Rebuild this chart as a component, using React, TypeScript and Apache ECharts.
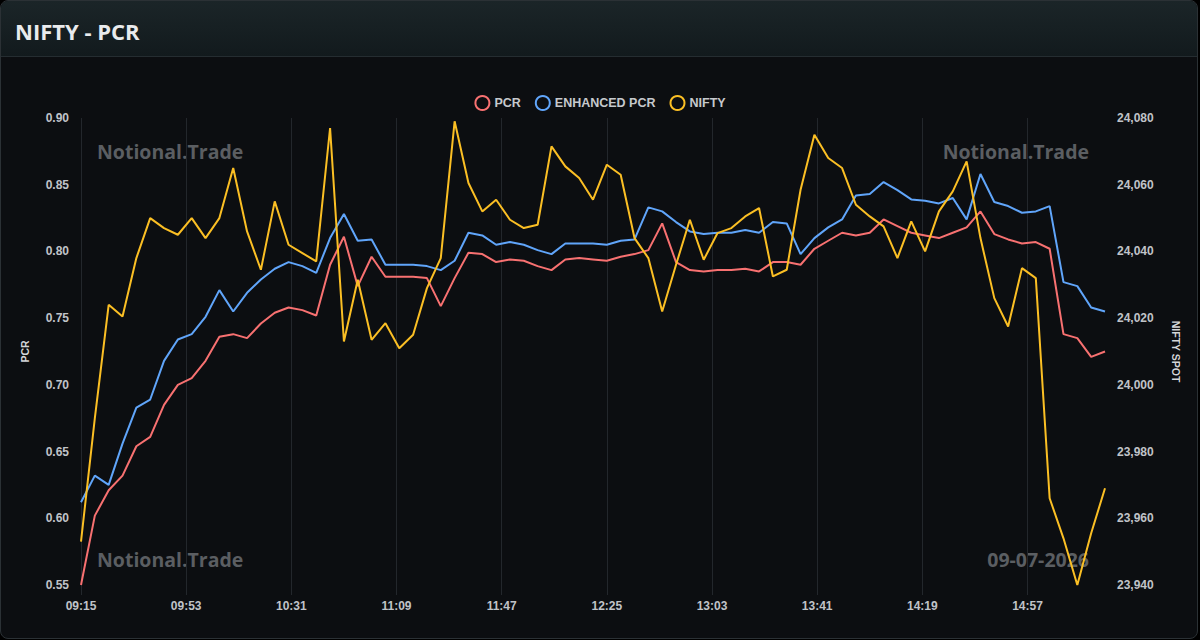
import { useEffect, useRef } from "react";
import * as echarts from "echarts";

// Sample times (5-minute snapshots)
const TIMES = [
  "09:15", "09:20", "09:25", "09:30", "09:35", "09:40", "09:45", "09:50", "09:55", "10:00",
  "10:05", "10:10", "10:15", "10:20", "10:25", "10:30", "10:35", "10:40", "10:45", "10:50",
  "10:55", "11:00", "11:05", "11:10", "11:15", "11:20", "11:25", "11:30", "11:35", "11:40",
  "11:45", "11:50", "11:55", "12:00", "12:05", "12:10", "12:15", "12:20", "12:25", "12:30",
  "12:35", "12:40", "12:45", "12:50", "12:55", "13:00", "13:05", "13:10", "13:15", "13:20",
  "13:25", "13:30", "13:35", "13:40", "13:45", "13:50", "13:55", "14:00", "14:05", "14:10",
  "14:15", "14:20", "14:25", "14:30", "14:35", "14:40", "14:45", "14:50", "14:55", "15:00",
  "15:05", "15:10", "15:15", "15:20", "15:25",
];

const PCR = [
  0.550, 0.602, 0.621, 0.632, 0.654, 0.661, 0.685, 0.700, 0.705, 0.718,
  0.736, 0.738, 0.735, 0.746, 0.754, 0.758, 0.756, 0.752, 0.790, 0.811,
  0.774, 0.796, 0.781, 0.781, 0.781, 0.780, 0.759, 0.780, 0.799, 0.798,
  0.792, 0.794, 0.793, 0.789, 0.786, 0.794, 0.795, 0.794, 0.793, 0.796,
  0.798, 0.801, 0.821, 0.792, 0.786, 0.785, 0.786, 0.786, 0.787, 0.785,
  0.792, 0.792, 0.790, 0.802, 0.808, 0.814, 0.812, 0.814, 0.824, 0.819,
  0.814, 0.812, 0.810, 0.814, 0.818, 0.830, 0.813, 0.809, 0.806, 0.807,
  0.802, 0.738, 0.735, 0.721, 0.725,
];

const ENHANCED_PCR = [
  0.612, 0.632, 0.625, 0.656, 0.683, 0.689, 0.718, 0.734, 0.738, 0.751,
  0.771, 0.755, 0.769, 0.779, 0.787, 0.792, 0.789, 0.784, 0.810, 0.828,
  0.808, 0.809, 0.790, 0.790, 0.790, 0.789, 0.786, 0.793, 0.814, 0.812,
  0.805, 0.807, 0.805, 0.801, 0.798, 0.806, 0.806, 0.806, 0.805, 0.808,
  0.809, 0.833, 0.830, 0.822, 0.815, 0.813, 0.814, 0.814, 0.816, 0.814,
  0.822, 0.821, 0.798, 0.810, 0.818, 0.824, 0.842, 0.843, 0.852, 0.846,
  0.839, 0.838, 0.836, 0.840, 0.824, 0.858, 0.837, 0.834, 0.829, 0.830,
  0.834, 0.777, 0.774, 0.758, 0.755,
];

const NIFTY = [
  23953, 23990, 24024, 24020.5, 24038, 24050, 24047, 24045, 24050, 24044,
  24050, 24065, 24046, 24034.5, 24055, 24042, 24039.5, 24037, 24077, 24013,
  24031.5, 24013.5, 24018.5, 24011, 24015, 24029, 24038, 24079, 24060.5, 24052,
  24055.5, 24049.5, 24047, 24048, 24071.5, 24065.5, 24062, 24055.5, 24066, 24063,
  24044, 24038, 24022, 24036, 24049.5, 24037.5, 24045.5, 24047, 24050.5, 24053,
  24032.5, 24034.5, 24058.5, 24075, 24068, 24065, 24054, 24050.5, 24047.5, 24038,
  24049, 24040, 24052, 24058, 24067, 24044, 24026, 24017.5, 24035, 24032,
  23966, 23954, 23940, 23955.5, 23969,
];

const SERIES_NAMES = ["PCR", "ENHANCED PCR", "NIFTY"];
const SERIES_COLORS = ["#f87171", "#60a5fa", "#fbbf24"];

const PCR_AXIS = { name: "PCR", min: 0.55, max: 0.9, interval: 0.05 };
const SPOT_AXIS = { name: "NIFTY SPOT", min: 23940, max: 24080, interval: 20 };

const BRAND = "Notional.Trade";
const SESSION_DATE = "09-07-2026";
const TITLE = "NIFTY - PCR";

// One category per trading minute between the first and last snapshot
function minuteRange(first: string, last: string): string[] {
  const toMin = (t: string) => {
    const [h, m] = t.split(":").map(Number);
    return h * 60 + m;
  };
  const pad = (n: number) => String(n).padStart(2, "0");
  const out: string[] = [];
  for (let m = toMin(first); m <= toMin(last); m++) {
    out.push(`${pad(Math.floor(m / 60))}:${pad(m % 60)}`);
  }
  return out;
}

const LABEL_FONT = "'Liberation Sans', Arial, sans-serif";
const MARK_FONT = "'Open Sans', 'Noto Sans', sans-serif";

export default function App() {
  const ref = useRef<HTMLDivElement>(null);

  useEffect(() => {
    if (!ref.current) return;
    const chart = echarts.init(ref.current, null, { renderer: "svg" });
    const minutes = minuteRange(TIMES[0], TIMES[TIMES.length - 1]);
    const values = [PCR, ENHANCED_PCR, NIFTY];

    const watermark = (text: string, x: number, y: number, align: "left" | "right") => ({
      type: "text",
      x,
      y,
      z: -10,
      silent: true,
      style: {
        text,
        fill: "#5b5e62",
        font: `bold 19.5px ${MARK_FONT}`,
        textAlign: align,
        textVerticalAlign: "middle",
      },
    });

    chart.setOption({
      animation: false,
      backgroundColor: "transparent",
      textStyle: { fontFamily: LABEL_FONT },
      legend: {
        top: 90,
        left: "center",
        itemWidth: 14,
        itemHeight: 14,
        itemGap: 14,
        icon: "circle",
        textStyle: { color: "#c6c9cd", fontSize: 12.5, fontWeight: "bold", fontFamily: LABEL_FONT },
        data: SERIES_NAMES.map((name, i) => ({
          name,
          itemStyle: { color: "transparent", borderColor: SERIES_COLORS[i], borderWidth: 2 },
        })),
      },
      grid: { left: 81, right: 95, top: 118, bottom: 55 },
      xAxis: {
        type: "category",
        boundaryGap: false,
        data: minutes,
        axisLine: { show: false },
        axisTick: { show: true, interval: 37, length: 10, lineStyle: { color: "#23272c" } },
        axisLabel: {
          interval: 37,
          margin: 15,
          color: "#c0c3c8",
          fontSize: 12,
          fontWeight: "bold",
          fontFamily: LABEL_FONT,
        },
        splitLine: { show: true, interval: 37, lineStyle: { color: "#23272c", width: 1 } },
      },
      yAxis: [
        {
          type: "value",
          name: PCR_AXIS.name,
          nameLocation: "middle",
          nameGap: 51,
          nameTextStyle: { color: "#d4d6d9", fontSize: 10.5, fontWeight: "bold", fontFamily: LABEL_FONT },
          min: PCR_AXIS.min,
          max: PCR_AXIS.max,
          interval: PCR_AXIS.interval,
          axisLine: { show: false },
          axisTick: { show: false },
          splitLine: { show: false },
          axisLabel: {
            margin: 12,
            color: "#c0c3c8",
            fontSize: 12,
            fontWeight: "bold",
            fontFamily: LABEL_FONT,
            formatter: (v: number) => v.toFixed(2),
          },
        },
        {
          type: "value",
          name: SPOT_AXIS.name,
          nameLocation: "middle",
          nameRotate: -90,
          nameGap: 65,
          nameTextStyle: { color: "#d4d6d9", fontSize: 10.5, fontWeight: "bold", fontFamily: LABEL_FONT },
          min: SPOT_AXIS.min,
          max: SPOT_AXIS.max,
          interval: SPOT_AXIS.interval,
          axisLine: { show: false },
          axisTick: { show: false },
          splitLine: { show: false },
          axisLabel: {
            margin: 12,
            color: "#c0c3c8",
            fontSize: 12,
            fontWeight: "bold",
            fontFamily: LABEL_FONT,
            formatter: (v: number) => v.toLocaleString("en-US"),
          },
        },
      ],
      graphic: [
        watermark(BRAND, 97, 151, "left"),
        watermark(BRAND, 1089, 151, "right"),
        watermark(BRAND, 97, 559, "left"),
        watermark(SESSION_DATE, 1089, 559, "right"),
      ],
      series: SERIES_NAMES.map((name, i) => ({
        name,
        type: "line",
        yAxisIndex: i === 2 ? 1 : 0,
        data: TIMES.map((t, k) => [t, values[i][k]]),
        showSymbol: false,
        symbol: "circle",
        color: SERIES_COLORS[i],
        lineStyle: { width: 2, color: SERIES_COLORS[i] },
        z: 3,
      })),
    });

    return () => chart.dispose();
  }, []);

  return (
    <div
      style={{
        position: "fixed",
        left: 0,
        top: 0,
        width: 1200,
        height: 640,
        background: "#000",
      }}
    >
      <div
        style={{
          position: "absolute",
          left: 0,
          top: 0,
          width: 1198,
          height: 639,
          boxSizing: "border-box",
          border: "1px solid #2b3135",
          borderRadius: 8,
          background: "#0c0e11",
          overflow: "hidden",
        }}
      >
        <div
          style={{
            position: "absolute",
            left: 0,
            top: 0,
            right: 0,
            height: 55,
            background: "linear-gradient(180deg, #1b2528 0%, #121a1d 100%)",
            borderBottom: "1px solid #252d31",
          }}
        />
        <div
          style={{
            position: "absolute",
            left: 14,
            top: 15,
            lineHeight: "30px",
            fontFamily: MARK_FONT,
            fontWeight: 700,
            fontSize: 22,
            color: "#e9ebed",
            whiteSpace: "nowrap",
          }}
        >
          {TITLE}
        </div>
      </div>
      <div ref={ref} style={{ position: "absolute", left: 0, top: 0, width: 1200, height: 640 }} />
    </div>
  );
}
